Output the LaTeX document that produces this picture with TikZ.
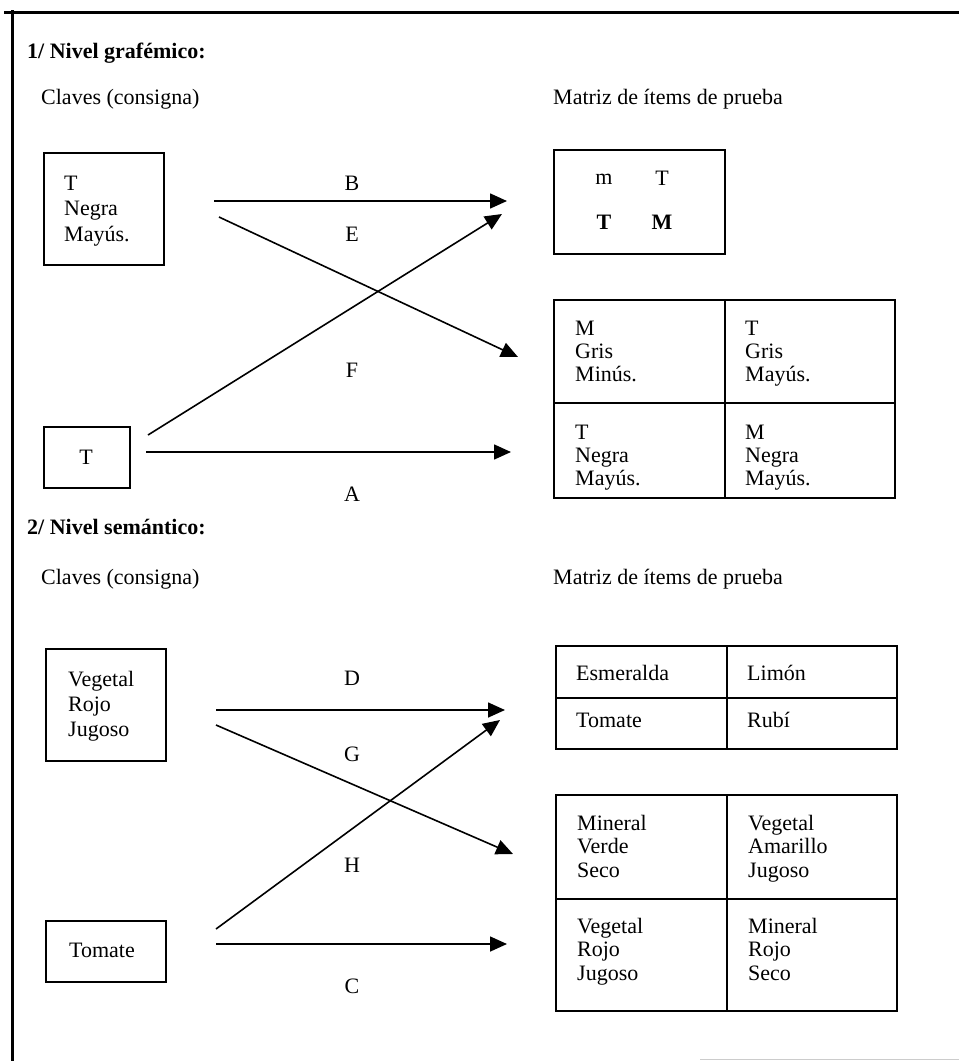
\documentclass[tikz,border=0pt]{standalone}
\usepackage{fontspec}
\setmainfont{Liberation Serif}
\usetikzlibrary{arrows.meta}
\newcommand{\stack}[2]{\parbox[t]{160pt}{\raggedright\fontsize{22}{#1}\selectfont #2}}
\tikzset{
  frameline/.style={line width=3pt, black},
  box/.style={draw, line width=1.8pt, rectangle, inner sep=0pt, anchor=north west},
  txt/.style={inner sep=0pt, anchor=base west, font=\fontsize{22}{24}\selectfont},
  lbl/.style={inner sep=0pt, anchor=base, font=\fontsize{22}{24}\selectfont},
  head/.style={inner sep=0pt, anchor=base west, font=\fontsize{22}{24}\selectfont\bfseries},
  conn/.style={line width=1.6pt, -{Triangle[length=17pt,width=15pt]}}
}
\begin{document}
\begin{tikzpicture}[x=1pt,y=-1pt]
\useasboundingbox (0,0) rectangle (959,1061);
% frame
\coordinate (ftl) at (12,12);
\coordinate (ftr) at (959,12);
\coordinate (fbl) at (12,1061);
\draw[frameline] (4,12) -- (ftr);
\draw[frameline] (12,10) -- (fbl);
\draw[gray!40, line width=1pt] (700,1059) -- (959,1059);

% ---------- Section 1 ----------
\node[head] (h1) at (27,58) {1/ Nivel grafémico:};
\node[txt] (cl1) at (41,104) {Claves (consigna)};
\node[txt] (mt1) at (553,104) {Matriz de ítems de prueba};

\node[box, minimum width=120pt, minimum height=112pt] (k1) at (43,152) {};
\node[inner sep=0pt, anchor=base west] (k1t) at (64,190) {\stack{25.5pt}{T\\Negra\\Mayús.}};
\node[box, minimum width=86pt, minimum height=61pt] (k2) at (43,426) {};
\node[lbl] (k2t) at (86,464) {T};

\node[box, minimum width=171pt, minimum height=104pt] (m1) at (553,149) {};
\node[lbl] (m1a) at (604,184) {m};
\node[lbl] (m1b) at (662,185) {T};
\node[lbl, font=\fontsize{22}{24}\selectfont\bfseries] (m1c) at (604,229) {T};
\node[lbl, font=\fontsize{22}{24}\selectfont\bfseries] (m1d) at (662,229) {M};

\node[box, minimum width=171pt, minimum height=103pt] (c11) at (553,299) {};
\node[box, minimum width=170pt, minimum height=103pt] (c12) at (724,299) {};
\node[box, minimum width=171pt, minimum height=95pt] (c21) at (553,402) {};
\node[box, minimum width=170pt, minimum height=95pt] (c22) at (724,402) {};
\node[inner sep=0pt, anchor=base west] (c11t) at (575,335) {\stack{23pt}{M\\Gris\\Minús.}};
\node[inner sep=0pt, anchor=base west] (c12t) at (745,335) {\stack{23pt}{T\\Gris\\Mayús.}};
\node[inner sep=0pt, anchor=base west] (c21t) at (575,439) {\stack{23pt}{T\\Negra\\Mayús.}};
\node[inner sep=0pt, anchor=base west] (c22t) at (745,439) {\stack{23pt}{M\\Negra\\Mayús.}};

\coordinate (bS) at (214,201);  \coordinate (bE) at (507,201);
\coordinate (eS) at (219,217);  \coordinate (eE) at (518,357);
\coordinate (fS) at (148,435);  \coordinate (fE) at (502,214);
\coordinate (aS) at (146,452);  \coordinate (aE) at (511,452);
\draw[conn] (bS) -- (bE);
\draw[conn] (eS) -- (eE);
\draw[conn] (fS) -- (fE);
\draw[conn] (aS) -- (aE);
\node[lbl] (lB) at (352,190) {B};
\node[lbl] (lE) at (352,241) {E};
\node[lbl] (lF) at (352,377) {F};
\node[lbl] (lA) at (352,501) {A};

% ---------- Section 2 ----------
\node[head] (h2) at (27,534) {2/ Nivel semántico:};
\node[txt] (cl2) at (41,584) {Claves (consigna)};
\node[txt] (mt2) at (553,584) {Matriz de ítems de prueba};

\node[box, minimum width=120pt, minimum height=112pt] (k3) at (45,648) {};
\node[inner sep=0pt, anchor=base west] (k3t) at (68,686) {\stack{25pt}{Vegetal\\Rojo\\Jugoso}};
\node[box, minimum width=120pt, minimum height=61pt] (k4) at (45,920) {};
\node[lbl] (k4t) at (102,957) {Tomate};

\node[box, minimum width=171pt, minimum height=52pt] (t11) at (555,645) {};
\node[box, minimum width=170pt, minimum height=52pt] (t12) at (726,645) {};
\node[box, minimum width=171pt, minimum height=51pt] (t21) at (555,697) {};
\node[box, minimum width=170pt, minimum height=51pt] (t22) at (726,697) {};
\node[txt] (t11t) at (576,680) {Esmeralda};
\node[txt] (t12t) at (747,680) {Limón};
\node[txt] (t21t) at (576,727) {Tomate};
\node[txt] (t22t) at (747,727) {Rubí};

\node[box, minimum width=171pt, minimum height=104pt] (d11) at (555,794) {};
\node[box, minimum width=170pt, minimum height=104pt] (d12) at (726,794) {};
\node[box, minimum width=171pt, minimum height=112pt] (d21) at (555,898) {};
\node[box, minimum width=170pt, minimum height=112pt] (d22) at (726,898) {};
\node[inner sep=0pt, anchor=base west] (d11t) at (577,830) {\stack{23.5pt}{Mineral\\Verde\\Seco}};
\node[inner sep=0pt, anchor=base west] (d12t) at (748,830) {\stack{23.5pt}{Vegetal\\Amarillo\\Jugoso}};
\node[inner sep=0pt, anchor=base west] (d21t) at (577,933) {\stack{23.5pt}{Vegetal\\Rojo\\Jugoso}};
\node[inner sep=0pt, anchor=base west] (d22t) at (748,933) {\stack{23.5pt}{Mineral\\Rojo\\Seco}};

\coordinate (dS) at (216,710);  \coordinate (dE) at (505,710);
\coordinate (gS) at (216,725);  \coordinate (gE) at (513,854);
\coordinate (hS) at (216,929);  \coordinate (hE) at (500,720);
\coordinate (cS) at (216,944);  \coordinate (cE) at (507,944);
\draw[conn] (dS) -- (dE);
\draw[conn] (gS) -- (gE);
\draw[conn] (hS) -- (hE);
\draw[conn] (cS) -- (cE);
\node[lbl] (lD) at (352,685) {D};
\node[lbl] (lG) at (352,761) {G};
\node[lbl] (lH) at (352,872) {H};
\node[lbl] (lC) at (352,993) {C};
\end{tikzpicture}
\end{document}
